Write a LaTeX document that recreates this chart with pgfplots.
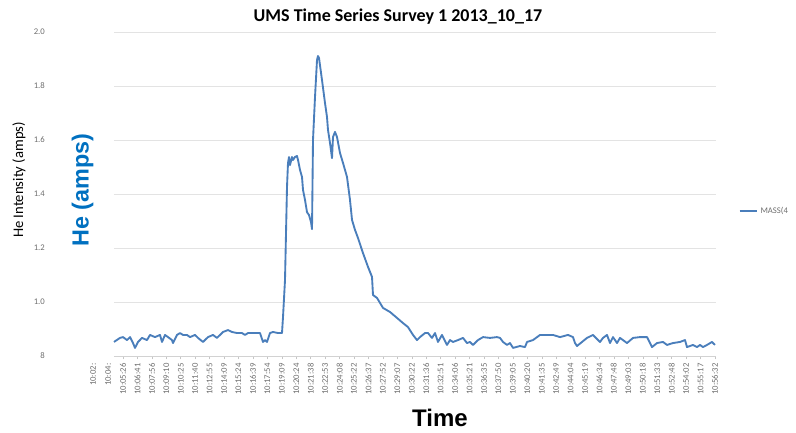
\documentclass[border=0pt]{standalone}
\usepackage{pgfplots}
\pgfplotsset{compat=1.18}
\usepackage{fontspec}
\setmainfont{Carlito}
\newfontfamily\arialfont{Liberation Sans}
\definecolor{serieblue}{RGB}{74,126,187}
\definecolor{heblue}{RGB}{0,112,192}
\definecolor{ticktext}{RGB}{110,110,110}

% He signal, minutes after 10:00 vs. intensity (amps)
\pgfplotstableread{
t v
4.656 0.852
5.174 0.867
5.433 0.870
5.779 0.859
6.038 0.870
6.297 0.848
6.469 0.830
6.728 0.852
7.073 0.867
7.505 0.859
7.764 0.878
8.196 0.870
8.627 0.878
8.800 0.852
9.059 0.878
9.318 0.870
9.663 0.859
9.749 0.848
10.095 0.878
10.354 0.885
10.613 0.878
10.958 0.878
11.217 0.870
11.648 0.878
11.907 0.867
12.339 0.852
12.771 0.870
13.202 0.878
13.547 0.867
13.806 0.878
14.065 0.889
14.497 0.896
14.842 0.889
15.274 0.885
15.705 0.885
15.964 0.878
16.223 0.885
16.655 0.885
17.259 0.885
17.518 0.852
17.691 0.859
17.863 0.852
18.122 0.885
18.381 0.889
18.813 0.885
19.158 0.885
19.245 0.944
19.417 1.081
19.590 1.426
19.676 1.515
19.762 1.537
19.849 1.507
20.021 1.537
20.108 1.526
20.280 1.537
20.453 1.541
20.539 1.526
20.712 1.489
20.885 1.463
20.971 1.415
21.144 1.378
21.316 1.333
21.489 1.322
21.662 1.296
21.748 1.270
21.834 1.600
22.007 1.759
22.180 1.896
22.266 1.911
22.352 1.904
22.611 1.822
22.870 1.737
23.043 1.685
23.129 1.637
23.302 1.589
23.475 1.533
23.561 1.611
23.734 1.630
23.906 1.611
24.165 1.552
24.424 1.515
24.769 1.463
25.028 1.378
25.201 1.304
25.460 1.267
25.719 1.237
26.151 1.181
26.582 1.130
26.927 1.093
27.013 1.026
27.359 1.015
27.877 0.978
28.481 0.963
29.085 0.941
29.603 0.922
30.035 0.907
30.467 0.878
30.811 0.859
31.070 0.870
31.502 0.885
31.761 0.885
32.106 0.867
32.365 0.885
32.624 0.852
32.969 0.878
33.401 0.841
33.660 0.859
33.919 0.852
34.351 0.859
34.782 0.867
35.127 0.848
35.386 0.852
35.645 0.841
36.077 0.859
36.509 0.870
37.113 0.867
37.717 0.870
37.976 0.867
38.235 0.852
38.580 0.841
38.839 0.848
39.098 0.830
39.702 0.837
40.134 0.833
40.307 0.852
40.825 0.859
41.429 0.878
42.033 0.878
42.551 0.878
43.156 0.870
43.846 0.878
44.278 0.870
44.450 0.848
44.623 0.837
45.054 0.852
45.486 0.867
46.004 0.878
46.608 0.852
46.867 0.867
47.213 0.878
47.472 0.848
47.731 0.870
48.076 0.848
48.335 0.867
48.939 0.848
49.457 0.867
50.061 0.870
50.666 0.870
51.097 0.833
51.529 0.848
52.047 0.852
52.392 0.841
52.910 0.848
53.514 0.852
53.946 0.859
54.118 0.833
54.636 0.841
54.981 0.833
55.240 0.841
55.499 0.833
55.844 0.841
56.276 0.852
56.535 0.841
}\hesignal

\begin{document}
\begin{tikzpicture}[
  ylab/.style={anchor=east, inner sep=0pt, xshift=-51.75pt,
    font=\fontsize{6.5}{7}\selectfont, text=ticktext}]
\path[use as bounding box] (-85.5pt,-57pt) rectangle (511.5pt,267pt);
\begin{axis}[
  at={(0,0)}, anchor=south west,
  scale only axis, width=451.5pt, height=243pt,
  xmin=4.656, xmax=56.621, ymin=0.8, ymax=2.0,
  clip=false,
  axis y line*=left,
  axis x line*=bottom,
  y axis line style={draw=none},
  x axis line style={draw=gray!35, -},
  ytick={0.8,1.0,1.2,1.4,1.6,1.8,2.0},
  yticklabels={},
  ytick style={draw=none},
  ymajorgrids,
  y grid style={gray!22, line width=0.6pt},
  extra y ticks={1.4,1.6},
  extra y tick labels={},
  extra y tick style={grid style={gray!60, line width=0.6pt}, ytick style={draw=none}},
  xtick={5.4333,6.6833,7.9333,9.1667,10.4167,11.6667,12.9167,14.15,15.4,16.65,17.9,19.15,20.4,21.6333,22.8833,24.1333,25.3667,26.6167,27.8667,29.1167,30.3667,31.6,32.85,34.1,35.35,36.5833,37.8333,39.0833,40.3333,41.5833,42.8167,44.0667,45.3167,46.5667,47.8,49.05,50.3,51.55,52.8,54.0333,55.2833,56.5333},
  xticklabels={10:05:26,10:06:41,10:07:56,10:09:10,10:10:25,10:11:40,10:12:55,10:14:09,10:15:24,10:16:39,10:17:54,10:19:09,10:20:24,10:21:38,10:22:53,10:24:08,10:25:22,10:26:37,10:27:52,10:29:07,10:30:22,10:31:36,10:32:51,10:34:06,10:35:21,10:36:35,10:37:50,10:39:05,10:40:20,10:41:35,10:42:49,10:44:04,10:45:19,10:46:34,10:47:48,10:49:03,10:50:18,10:51:33,10:52:48,10:54:02,10:55:17,10:56:32},
  minor x tick num=4,
  tick align=outside,
  major tick length=2.5pt,
  minor tick length=2pt,
  x tick style={draw=gray!45, line width=0.4pt},
  xticklabel shift=2pt,
  xticklabel style={rotate=90, anchor=east, inner sep=1pt, font=\fontsize{6.5}{7}\selectfont, text=ticktext},
  legend style={draw=none, fill=none, at={(1.035,0.447)}, anchor=west,
    font=\fontsize{6.5}{7}\selectfont, text=ticktext, inner sep=1pt},
  legend image code/.code={\draw[#1] (0pt,0pt) -- (13pt,0pt);},
]
\addplot[serieblue, line width=1.4pt, line join=round] table[x=t, y=v] {\hesignal};
\addlegendentry{MASS(4}
% value labels of the intensity axis, set well left of the plot
\node[ylab] at (axis cs:4.656,0.8) {8};
\node[ylab] at (axis cs:4.656,1.0) {1.0};
\node[ylab] at (axis cs:4.656,1.2) {1.2};
\node[ylab] at (axis cs:4.656,1.4) {1.4};
\node[ylab] at (axis cs:4.656,1.6) {1.6};
\node[ylab] at (axis cs:4.656,1.8) {1.8};
\node[ylab] at (axis cs:4.656,2.0) {2.0};
\end{axis}
% leading time stamps set left of the first tick
\node[rotate=90, anchor=east, inner sep=1pt, font=\fontsize{6.5}{7}\selectfont, text=ticktext] at (-15.75pt,-4.5pt) {10:02:};
\node[rotate=90, anchor=east, inner sep=1pt, font=\fontsize{6.5}{7}\selectfont, text=ticktext] at (-4.5pt,-4.5pt) {10:04:};
% titles
\node[font=\bfseries\fontsize{13.5}{15}\selectfont] at (213pt,254.6pt) {UMS Time Series Survey 1 2013\_10\_17};
\node[rotate=90, font=\fontsize{11}{13}\selectfont] at (-71.25pt,132pt) {He Intensity (amps)};
\node[rotate=90, font=\arialfont\bfseries\fontsize{17.5}{20}\selectfont, text=heblue] at (-23.6pt,124.5pt) {He (amps)};
\node[font=\arialfont\bfseries\fontsize{18}{20}\selectfont, inner sep=0pt] at (244.5pt,-46.5pt) {Time};
\end{tikzpicture}
\end{document}
